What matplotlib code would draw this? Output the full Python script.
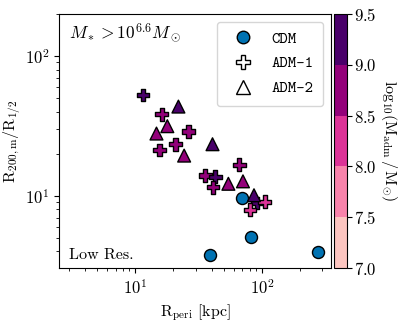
import numpy as np
import matplotlib
matplotlib.use('Agg')
import matplotlib.pyplot as plt
from matplotlib.colors import ListedColormap, BoundaryNorm
from matplotlib.lines import Line2D

plt.rcParams['font.family'] = 'serif'
plt.rcParams['font.serif'] = ['cmr10']
plt.rcParams['mathtext.fontset'] = 'cm'
plt.rcParams['axes.formatter.use_mathtext'] = True

# CDM haloes
cdm_rperi = [69.2, 82.5, 39.2, 276]
cdm_ratio = [9.7, 5.07, 3.75, 3.96]

# ADM-1
adm1_rperi = [11.5, 16.2, 26.3, 20.8, 15.5, 66.2, 35.6, 42.7, 41.1, 91.5, 105, 80.5]
adm1_ratio = [52.6, 38.4, 28.8, 23.4, 21.3, 16.7, 14.0, 13.7, 11.5, 8.9, 9.06, 7.94]
adm1_mass = [9.2, 8.7, 8.7, 8.7, 8.7, 8.7, 8.7, 9.2, 8.7, 9.2, 8.2, 8.2]

# ADM-2
adm2_rperi = [21.9, 17.9, 14.7, 24.3, 40.7, 54.3, 70.8, 86.5]
adm2_ratio = [43.5, 31.5, 27.9, 19.4, 23.4, 12.2, 12.7, 10.1]
adm2_mass = [9.2, 8.7, 8.7, 8.7, 9.2, 8.7, 8.7, 9.2]

bounds = [7.0, 7.5, 8.0, 8.5, 9.0, 9.5]
cmap = ListedColormap(plt.get_cmap('RdPu')(np.linspace(0.25, 1.0, 5)))
norm = BoundaryNorm(bounds, cmap.N)

fig = plt.figure(figsize=(4.07, 3.24), dpi=100)
ax = fig.add_axes([0.145, 0.173, 0.668, 0.784])
cax = fig.add_axes([0.821, 0.173, 0.032, 0.784])

ax.scatter(cdm_rperi, cdm_ratio, s=75, marker='o', color='#0072B2',
           edgecolor='k', linewidth=1, zorder=3)
ax.scatter(adm1_rperi, adm1_ratio, s=85, marker='P', c=adm1_mass, cmap=cmap,
           norm=norm, edgecolor='k', linewidth=1, zorder=3)
sc = ax.scatter(adm2_rperi, adm2_ratio, s=85, marker='^', c=adm2_mass, cmap=cmap,
                norm=norm, edgecolor='k', linewidth=1, zorder=3)

ax.set_xscale('log')
ax.set_yscale('log')
ax.set_xlim(2.5, 350)
ax.set_ylim(3.05, 200)
ax.set_xlabel(r'$\mathrm{R_{peri}}$ [kpc]', fontsize=11.5)
ax.set_ylabel(r'$\mathrm{R_{200,m}/R_{1/2}}$', fontsize=11.5, labelpad=1)
ax.tick_params(labelsize=12)

ax.text(0.037, 0.925, r'$M_* > 10^{6.6}M_\odot$', transform=ax.transAxes,
        fontsize=12.5, va='center', ha='left')
ax.text(0.037, 0.05, 'Low Res.', transform=ax.transAxes,
        fontsize=11.5, va='center', ha='left')

handles = [
    Line2D([], [], ls='', marker='o', ms=9, mfc='#0072B2', mec='k'),
    Line2D([], [], ls='', marker='P', ms=10, mfc='w', mec='k'),
    Line2D([], [], ls='', marker='^', ms=10, mfc='w', mec='k'),
]
ax.legend(handles, ['CDM', 'ADM-1', 'ADM-2'], loc='upper right',
          prop={'family': 'cmtt10', 'size': 11.5}, labelspacing=0.6,
          handletextpad=0.8, borderpad=0.6)

cb = fig.colorbar(sc, cax=cax, ticks=bounds)
cb.ax.tick_params(labelsize=12, pad=1.5)
cb.set_label(r'$\mathrm{log_{10}(M_{adm}\,/\,M_{\odot})}$', rotation=270,
             labelpad=16, fontsize=11.5)

fig.savefig('out.png', dpi=100)
